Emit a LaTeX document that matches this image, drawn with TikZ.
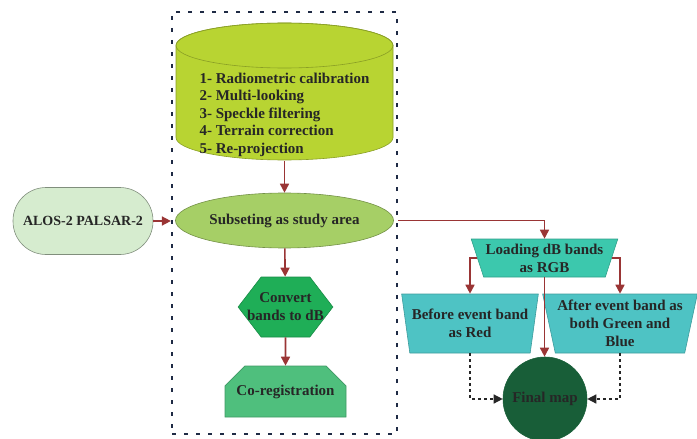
\documentclass[tikz,border=0pt]{standalone}
\usepackage{fontspec}
\setmainfont{Liberation Serif}
\usetikzlibrary{arrows.meta,positioning,shapes.geometric,shapes.misc,shapes.symbols}

\definecolor{flowred}{HTML}{9A3535}
\definecolor{framecol}{HTML}{1F2B45}
\definecolor{cylfill}{HTML}{B8D432}
\definecolor{subfill}{HTML}{A6CF66}
\definecolor{alosfill}{HTML}{D6ECCF}
\definecolor{hexfill}{HTML}{1FAE57}
\definecolor{coregfill}{HTML}{4FBF7D}
\definecolor{loadfill}{HTML}{3CC8AD}
\definecolor{bandfill}{HTML}{4EC3C4}
\definecolor{finalfill}{HTML}{185E38}

\begin{document}
\begin{tikzpicture}[
  x=1pt, y=-1pt, >={Triangle[length=9pt,width=9pt]},
  font=\bfseries\fontsize{15}{18}\selectfont,
  box/.style={align=center, inner sep=2pt, text=black!85, line width=0.6pt},
  flow/.style={->, draw=flowred, line width=1.6pt},
  dflow/.style={->, draw=black!85, dashed, line width=1.4pt},
  tank/.style={box, rectangle, path picture={
      \path[fill=cylfill, draw=cylfill!75!black, line width=0.6pt]
        ([xshift=1pt,yshift=-23.5pt]path picture bounding box.north west)
        -- ([xshift=1pt,yshift=23.5pt]path picture bounding box.south west)
        arc[start angle=180, end angle=360, x radius=108.5pt, y radius=22.5pt]
        -- ([xshift=-1pt,yshift=-23.5pt]path picture bounding box.north east)
        arc[start angle=0, end angle=180, x radius=108.5pt, y radius=22.5pt] -- cycle;
      \draw[cylfill!75!black, line width=0.6pt] ([yshift=-23.5pt]path picture bounding box.north)
        ellipse[x radius=108.5pt, y radius=22.5pt];
    }},
  oval/.style={box, ellipse, fill=subfill, draw=subfill!70!black},
  source/.style={box, rectangle, rounded corners=33pt, fill=alosfill, draw=alosfill!60!black},
  hexa/.style={box, signal, signal to=east and west, signal pointer angle=105, inner xsep=-14pt, fill=hexfill, draw=hexfill!80!black},
  snip/.style={box, chamfered rectangle, chamfered rectangle corners={north west,north east}, chamfered rectangle xsep=9pt, chamfered rectangle ysep=11pt, fill=coregfill, draw=coregfill!80!black},
  funnel/.style={box, trapezium, shape border rotate=180, trapezium stretches=true},
  loadbox/.style={funnel, trapezium angle=69, fill=loadfill, draw=loadfill!80!black},
  bandbox/.style={funnel, trapezium angle=76, fill=bandfill, draw=bandfill!80!black}
]
  \useasboundingbox (0,0) rectangle (697,439);

  % preprocessing frame
  \node[draw=framecol, line width=2.2pt, dash pattern=on 4pt off 8pt, minimum width=225pt, minimum height=422pt] (frame) at (284.5,223) {};

  \node[tank, align=left, minimum width=219pt, minimum height=139pt, font=\bfseries\fontsize{15}{17.5}\selectfont] (steps) at (284.5,91.5) {\mbox{}\\[39pt]1- Radiometric calibration\\2- Multi-looking\\3- Speckle filtering\\4- Terrain correction\\5- Re-projection};

  \node[oval, minimum width=195pt, minimum height=55pt] (subset) at (284.5,220.5) {Subseting as study area};
  \node[source, minimum width=140pt, minimum height=67pt, font=\bfseries\fontsize{14}{17}\selectfont] (alos) at (83,221) {ALOS-2 PALSAR-2};
  \node[hexa, minimum height=60pt] (convert) at (285.5,307) {Convert\\bands to dB};
  \node[snip, minimum width=121pt, minimum height=51pt] (coreg) at (285.5,391.5) {Co-registration};

  % RGB composition
  \node[loadbox, minimum width=137pt, minimum height=38pt] (loading) at (544.5,258) {Loading dB bands\\as RGB};
  \node[bandbox, minimum width=134pt, minimum height=59pt] (before) at (470,323.5) {Before event band\\as Red};
  \node[bandbox, minimum width=136pt, minimum height=59pt] (after) at (620,323.5) {After event band as\\both Green and\\Blue};
  \node[box, circle, minimum size=84pt, fill=finalfill, draw=finalfill] (final) at (545,399) {Final map};

  \draw[flow] (steps.south) -- (subset.north);
  \draw[flow] (alos.east) -- (frame.west |- alos.east);
  \draw[flow] (subset) -- (convert);
  \draw[flow] (convert) -- (coreg);
  \draw[flow] (frame.east |- subset.east) -| (loading.north);
  \draw[flow] (loading.west) -| (before.north);
  \draw[flow] (loading.east) -| (after.north);
  \draw[flow] (loading.south) -- (loading.south |- final.north);
  \draw[dflow] (before.south) |- (final.west);
  \draw[dflow] (after.south) |- (final.east);
\end{tikzpicture}
\end{document}
